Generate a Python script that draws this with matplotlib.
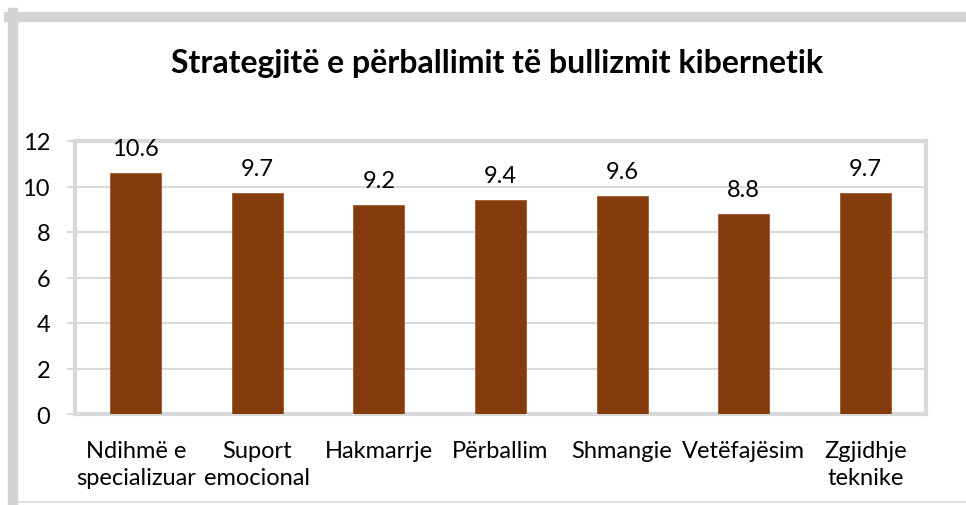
import numpy as np
import matplotlib.pyplot as plt
from matplotlib.lines import Line2D

plt.rcParams['font.family'] = ['Lato', 'DejaVu Sans']

# data
categories = ['Ndihmë e\nspecializuar', 'Suport\nemocional', 'Hakmarrje',
              'Përballim', 'Shmangie', 'Vetëfajësim', 'Zgjidhje\nteknike']
values = [10.6, 9.7, 9.2, 9.4, 9.6, 8.8, 9.7]
yticks = [0, 2, 4, 6, 8, 10, 12]
title = 'Strategjitë e përballimit të bullizmit kibernetik'

bar_color = '#843C0C'
grid_color = '#D9D9D9'

fig = plt.figure(figsize=(9.66, 5.06), dpi=100)
W, H = 966, 506

# outer chart frame (gray border like the office chart box)
fig.add_artist(Line2D([13 / W, 13 / W], [0, 1 - 14 / H], color='#D4D4D4', lw=7.5))
fig.add_artist(Line2D([9 / W, 1], [1 - 18 / H, 1 - 18 / H], color='#D4D4D4', lw=7.5))
fig.add_artist(Line2D([18 / W, 1], [3 / H, 3 / H], color='#DDDDDD', lw=1.2))

ax = fig.add_axes([75 / W, 1 - 415 / H, (926 - 75) / W, (415 - 142) / H])

x = np.arange(len(categories))
bars = ax.bar(x, values, width=0.42, color=bar_color, zorder=3,
              edgecolor='#A0582E', linewidth=0.6)

for xi, v in zip(x, values):
    ax.annotate(f'{v:.1f}', (xi, v), xytext=(0, 10), textcoords='offset points',
                ha='center', va='bottom', fontsize=17, color='black')

ax.set_xlim(-0.5, len(categories) - 0.5)
ax.set_ylim(0, 12)
ax.set_yticks(yticks)
ax.set_yticklabels([str(t) for t in yticks], fontsize=17)
ax.set_xticks(x)
ax.set_xticklabels(categories, fontsize=17, linespacing=1.32)

ax.yaxis.grid(True, color=grid_color, linewidth=1.5, zorder=0)
ax.set_axisbelow(True)

for s in ax.spines.values():
    s.set_color(grid_color)
    s.set_linewidth(3)

ax.tick_params(axis='y', length=6, width=1.5, color=grid_color, pad=12)
ax.tick_params(axis='x', length=0, pad=19)

fig.text(497 / W, 1 - 64 / H, title, ha='center', va='center',
         fontsize=23, fontweight='bold')

fig.savefig('out.png', dpi=100)
